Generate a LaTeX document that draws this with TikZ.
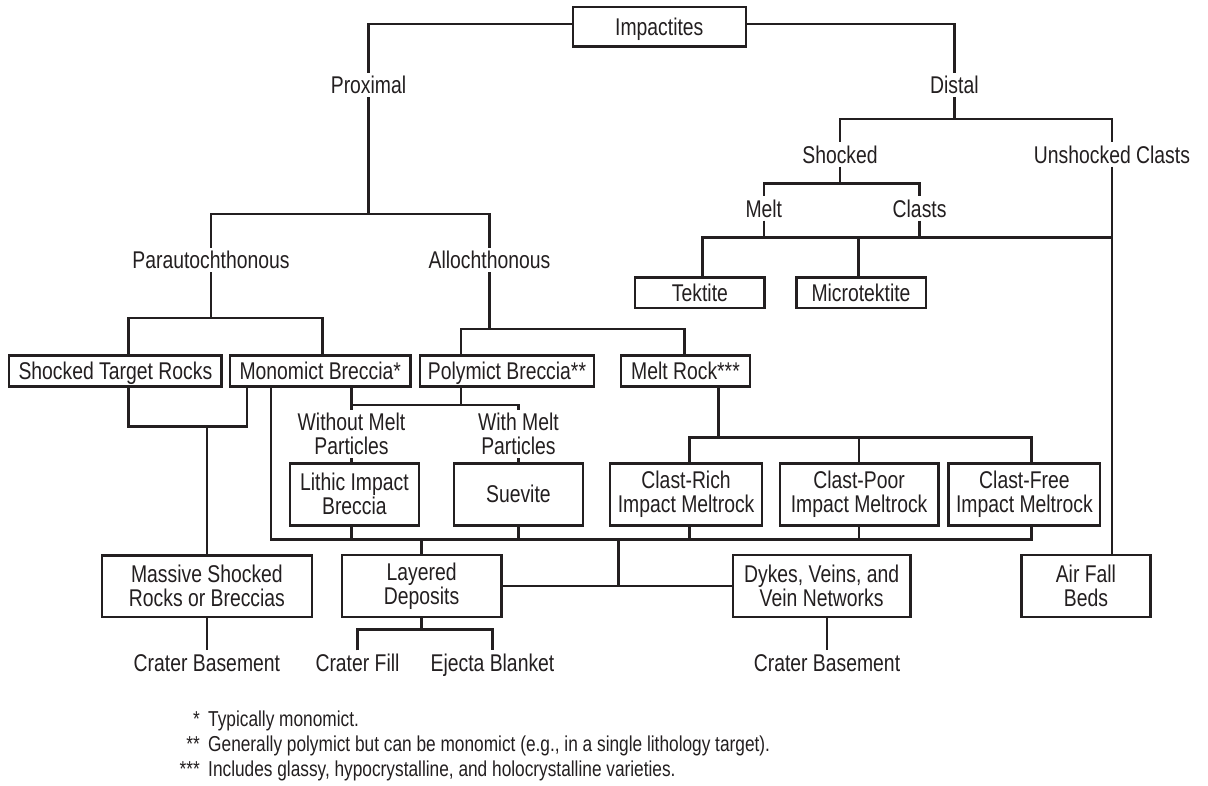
\documentclass[tikz,border=0pt]{standalone}
\usepackage{fontspec}
\setmainfont{Liberation Sans}[FakeStretch=0.80]
\definecolor{ink}{RGB}{35,31,32}
\newcommand\mainfs{\fontsize{24.2}{24}\selectfont}
\newcommand\fnfs{\fontsize{21.6}{25}\selectfont}
\tikzset{
  bx/.style={draw=ink, text=ink, line width=2.4pt, inner sep=0pt, font=\mainfs, align=center},
  bxa/.style={bx, text height=17.3pt, text depth=0pt},
  lb/.style={text=ink, inner sep=3.5pt, font=\mainfs, text height=17.5pt, text depth=0pt},
  lbb/.style={text=ink, inner sep=3pt, font=\mainfs, align=center},
  cn/.style={draw=ink, line width=2.6pt},
  fn/.style={text=ink, inner sep=0pt, font=\fnfs, anchor=base west},
  fnr/.style={text=ink, inner sep=0pt, font=\fnfs, anchor=base east},
}
\begin{document}
\begin{tikzpicture}[x=1pt,y=-1pt]
\fill[white] (0,0) rectangle (1208,786);
\useasboundingbox (0,0) rectangle (1208,786);

% ---- nodes ----
\node[bxa, minimum width=173pt, minimum height=39.4pt] (imp) at (659.3,27) {Impactites};
\node[lb] (prox) at (368.5,85) {Proximal};
\node[lb] (dist) at (954.4,85) {Distal};
\node[lb] (para) at (211,260) {Parautochthonous};
\node[lb] (allo) at (489.5,260) {Allochthonous};
\node[lb] (shk) at (840,154.3) {Shocked};
\node[lb] (unsh) at (1112,154.3) {Unshocked Clasts};
\node[lb] (melt) at (763.8,208.3) {Melt};
\node[lb] (clasts) at (919.6,208.3) {Clasts};
\node[bxa, minimum width=129.4pt, minimum height=30.6pt] (tek) at (699.9,293) {Tektite};
\node[bxa, minimum width=129.4pt, minimum height=30.6pt] (micro) at (861,293) {Microtektite};

\node[bxa, minimum width=212.4pt, minimum height=31pt] (str) at (115.4,371.2) {Shocked Target Rocks};
\node[bxa, minimum width=180.3pt, minimum height=31pt] (mono) at (320.2,371.2) {Monomict Breccia*};
\node[bxa, minimum width=174.5pt, minimum height=31pt] (poly) at (507,371.2) {Polymict Breccia**};
\node[bxa, minimum width=129pt, minimum height=31pt] (mrock) at (685.5,371.2) {Melt Rock***};

\node[lbb] (wom) at (351.5,434) {Without Melt\\Particles};
\node[lbb] (wm) at (518.4,434) {With Melt\\Particles};

\node[bx, minimum width=129.3pt, minimum height=62pt] (lith) at (354.4,494.3) {Lithic Impact\\Breccia};
\node[bxa, minimum width=129pt, minimum height=62pt] (suev) at (518.4,494.3) {Suevite};
\node[bx, minimum width=152.3pt, minimum height=62pt] (crich) at (686.1,494.3) {Clast-Rich\\Impact Meltrock};
\node[bx, minimum width=158.4pt, minimum height=62pt] (cpoor) at (859.1,494.3) {Clast-Poor\\Impact Meltrock};
\node[bx, minimum width=151.6pt, minimum height=62pt] (cfree) at (1024.4,494.3) {Clast-Free\\Impact Meltrock};

\node[bx, minimum width=210pt, minimum height=61.3pt] (mass) at (206.9,586.3) {Massive Shocked\\Rocks or Breccias};
\node[bx, minimum width=159.5pt, minimum height=62pt] (lay) at (421.6,586) {Layered\\Deposits};
\node[bx, minimum width=177.6pt, minimum height=62pt] (dyk) at (821.6,586) {Dykes, Veins, and\\Vein Networks};
\node[bx, minimum width=129pt, minimum height=62pt] (air) at (1085.9,586) {Air Fall\\Beds};

\node[lb] (cb1) at (206.9,662.7) {Crater Basement};
\node[lb] (cfill) at (357.5,662.7) {Crater Fill};
\node[lb] (ej) at (492.5,662.7) {Ejecta Blanket};
\node[lb] (cb2) at (827,662.7) {Crater Basement};

% footnotes
\node[fnr] (s1) at (200,726.5) {*};
\node[fn]  (f1) at (208,726.5) {Typically monomict.};
\node[fnr] (s2) at (200,751.5) {**};
\node[fn]  (f2) at (208,751.5) {Generally polymict but can be monomict (e.g., in a single lithology target).};
\node[fnr] (s3) at (200,776.5) {***};
\node[fn]  (f3) at (208,776.5) {Includes glassy, hypocrystalline, and holocrystalline varieties.};

% ---- helper coordinates ----
\coordinate (y1) at (0,214);
\coordinate (y2) at (0,318);
\coordinate (y3) at (0,329);
\coordinate (yd) at (0,119);
\coordinate (ys) at (0,183.3);
\coordinate (ym) at (0,237.3);
\coordinate (yp) at (0,405);
\coordinate (ymb) at (0,426.7);
\coordinate (ymr) at (0,437.3);
\coordinate (yb) at (0,539.3);
\coordinate (yl) at (0,629.3);
\coordinate (j) at (618.4,539.3);

\coordinate (strT) at ([xshift=12.8pt]str.north);
\coordinate (strB) at ([xshift=12.8pt]str.south);
\coordinate (monoT) at ([xshift=2.4pt]mono.north);
\coordinate (monoB1) at ([xshift=-73.4pt]mono.south);
\coordinate (monoB2) at ([xshift=-49.2pt]mono.south);
\coordinate (polyT) at ([xshift=-46pt]poly.north);
\coordinate (polyB) at ([xshift=-46pt]poly.south);
\coordinate (mrT) at ([xshift=-1.3pt]mrock.north);
\coordinate (mrB) at ([xshift=33.1pt]mrock.south);
\coordinate (tekT) at ([xshift=2.7pt]tek.north);
\coordinate (micT) at ([xshift=-2.7pt]micro.north);
\coordinate (crT) at ([xshift=3.5pt]crich.north);
\coordinate (crB) at ([xshift=3.5pt]crich.south);
\coordinate (cfT) at ([xshift=7.3pt]cfree.north);
\coordinate (cfB) at ([xshift=7.3pt]cfree.south);

% ---- connectors ----
\draw[cn] ([yshift=3pt]imp.west) -| (prox.north);
\draw[cn] ([yshift=3pt]imp.east) -| (dist.north);
\draw[cn] (prox.south) -- (prox.south |- y1);
\draw[cn] (para.north) -- (para.north |- y1) -- (allo.north |- y1) -- (allo.north);
\draw[cn] (para.south) -- (para.south |- y2);
\draw[cn] (strT) -- (strT |- y2) -- (monoT |- y2) -- (monoT);
\draw[cn] (allo.south) -- (allo.south |- y3);
\draw[cn] (polyT) -- (polyT |- y3) -- (mrT |- y3) -- (mrT);

\draw[cn] (dist.south) -- (dist.south |- yd);
\draw[cn] (shk.north) -- (shk.north |- yd) -- (unsh.north |- yd) -- (unsh.north);
\draw[cn] (shk.south) -- (shk.south |- ys);
\draw[cn] (melt.north) -- (melt.north |- ys) -- (clasts.north |- ys) -- (clasts.north);
\draw[cn] (melt.south) -- (melt.south |- ym);
\draw[cn] (clasts.south) -- (clasts.south |- ym);
\draw[cn] (tekT) -- (tekT |- ym) -- (unsh.south |- ym);
\draw[cn] (micT) -- (micT |- ym);
\draw[cn] (unsh.south) -- (unsh.south |- air.north);

\draw[cn] (strB) -- (strB |- ymb) -- (monoB1 |- ymb) -- (monoB1);
\draw[cn] (mass.north) -- (mass.north |- ymb);
\draw[cn] (mass.south) -- (cb1.north);

\draw[cn] (mono.south -| wom.north) -- (wom.north);
\draw[cn] (polyB) -- (polyB |- yp);
\draw[cn] (wom.north |- yp) -- (wm.north |- yp) -- (wm.north);
\draw[cn] (wom.south) -- (wom.south |- lith.north);
\draw[cn] (wm.south) -- (suev.north);
\draw[cn] (lith.south -| wom.south) -- (wom.south |- yb);
\draw[cn] (suev.south) -- (suev.south |- yb);

\draw[cn] (mrB) -- (mrB |- ymr);
\draw[cn] (crT) -- (crT |- ymr) -- (cfT |- ymr) -- (cfT);
\draw[cn] (cpoor.north) -- (cpoor.north |- ymr);
\draw[cn] (monoB2) -- (monoB2 |- yb) -- (cfB |- yb) -- (cfB);
\draw[cn] (crB) -- (crB |- yb);
\draw[cn] (cpoor.south) -- (cpoor.south |- yb);

\draw[cn] (lay.north) -- (lay.north |- yb);
\draw[cn] (lay.east) -- (dyk.west);
\draw[cn] (j) -- (j |- lay.east);
\draw[cn] (lay.south) -- (lay.south |- yl);
\draw[cn] (cfill.north) -- (cfill.north |- yl) -- (ej.north |- yl) -- (ej.north);
\draw[cn] (dyk.south -| cb2.north) -- (cb2.north);
\end{tikzpicture}
\end{document}
